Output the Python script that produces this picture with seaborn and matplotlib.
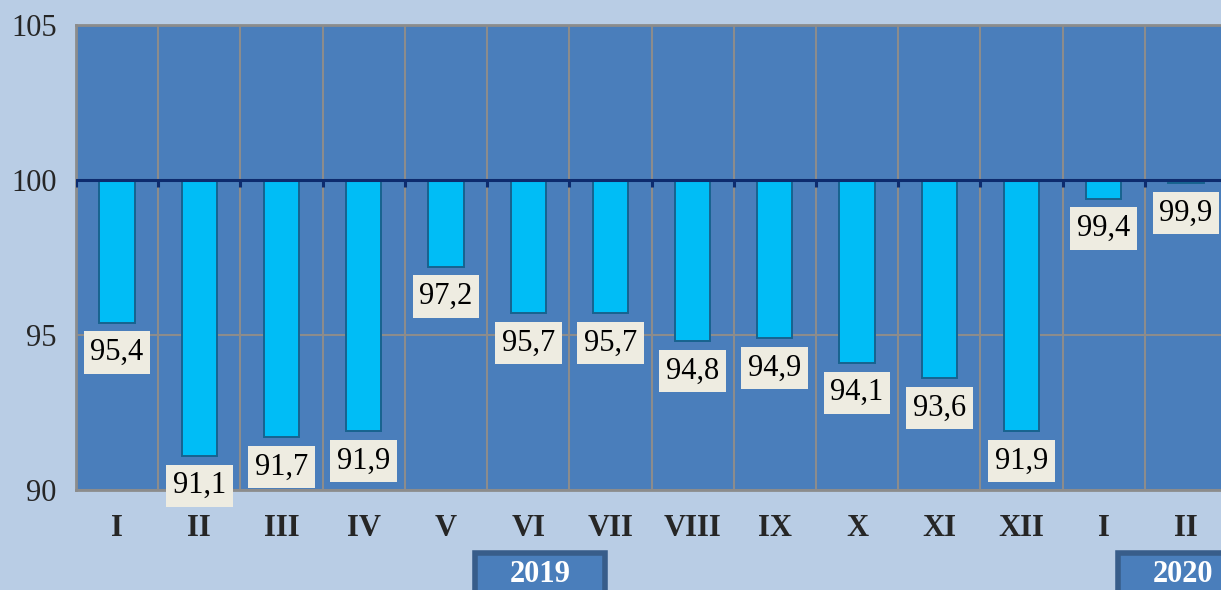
import pandas as pd
import matplotlib.pyplot as plt
import seaborn as sns
from matplotlib.patches import Rectangle

# Data
months = ["I", "II", "III", "IV", "V", "VI", "VII", "VIII", "IX", "X", "XI", "XII", "I", "II"]
years = ["2019"] * 12 + ["2020"] * 2
values = [95.4, 91.1, 91.7, 91.9, 97.2, 95.7, 95.7, 94.8, 94.9, 94.1, 93.6, 91.9, 99.4, 99.9]
base = 100

df = pd.DataFrame({"period": [y + "-" + m for y, m in zip(years, months)],
                   "value": values})
df["dev"] = df["value"] - base

sns.set_style("white")
plt.rcParams["font.family"] = ["Liberation Serif", "DejaVu Serif"]

fig = plt.figure(figsize=(12.21, 5.90), dpi=100, facecolor="#b9cde5")
ax = fig.add_axes([76 / 1221, 100 / 590, 1151 / 1221, 465 / 590])
ax.set_facecolor("#4a7ebb")

sns.barplot(data=df, x="period", y="dev", bottom=base, width=0.43,
            color="#00bdf6", edgecolor="#17638f", linewidth=1.4,
            saturation=1, ax=ax, zorder=3)

ax.set_ylim(90, 105)
ax.set_xlim(-0.5, len(values) - 0.5)
ax.set_yticks([90, 95, 100, 105])
ax.set_yticklabels(["90", "95", "100", "105"], fontsize=22)
ax.set_xticks(range(len(months)))
ax.set_xticklabels(months, fontsize=22, fontweight="bold")
ax.tick_params(axis="x", length=0, pad=17)
ax.tick_params(axis="y", length=10, width=2, color="#8c8c8c", pad=4)
ax.set_xlabel("")
ax.set_ylabel("")

# grid
ax.set_xticks([i - 0.5 for i in range(len(values) + 1)], minor=True)
ax.tick_params(axis="x", which="minor", length=0)
ax.grid(True, which="minor", axis="x", color="#8c8c8c", linewidth=1.5, zorder=0)
ax.grid(True, which="major", axis="y", color="#8c8c8c", linewidth=1.5, zorder=0)
ax.set_axisbelow(True)
for side in ["left", "bottom", "top"]:
    ax.spines[side].set_color("#8c8c8c")
    ax.spines[side].set_linewidth(2)
ax.spines["right"].set_visible(False)

# base line at 100 with small ticks
ax.axhline(base, color="#0d2b6e", linewidth=2.2, zorder=4)
ax.vlines([i - 0.5 for i in range(len(values) + 1)], base - 0.22, base,
          color="#0d2b6e", linewidth=2.2, zorder=4)

# value labels
for i, v in enumerate(values):
    ax.annotate(f"{v:.1f}".replace(".", ","), xy=(i, v), xytext=(0, -21.5),
                textcoords="offset points", ha="center", va="center",
                fontsize=22, color="black", zorder=6, annotation_clip=False,
                bbox=dict(boxstyle="square,pad=0.22", facecolor="#eeece1",
                          edgecolor="none"))

# year boxes
for x0, w, label in [(475, 130, "2019"), (1118, 130, "2020")]:
    fig.patches.append(Rectangle((x0 / 1221, -0.05), w / 1221, (590 - 553) / 590 + 0.05,
                                 transform=fig.transFigure, facecolor="#4a7ebb",
                                 edgecolor="#385d8a", linewidth=4))
    fig.text((x0 + w / 2) / 1221, (590 - 574) / 590, label, ha="center", va="center",
             fontsize=22, fontweight="bold", color="white")

fig.savefig("out.png", dpi=100, facecolor=fig.get_facecolor())
